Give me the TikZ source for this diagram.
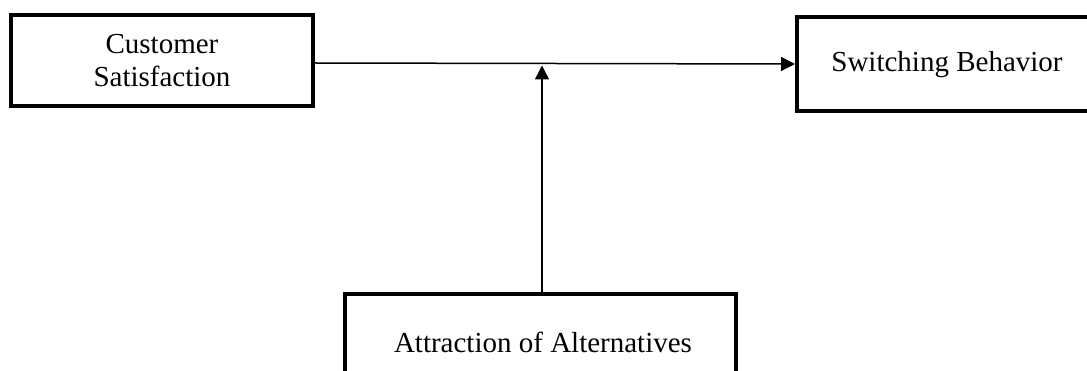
\documentclass[tikz,border=0pt]{standalone}
\usepackage{fontspec}
\setmainfont{Liberation Serif}
\usetikzlibrary{arrows.meta}
\begin{document}
\begin{tikzpicture}[x=1pt,y=-1pt,
  boxnode/.style={draw=black,line width=4pt,rectangle,inner sep=0pt,align=center,
    font=\fontsize{29}{33}\selectfont},
  conn/.style={line width=1.5pt,-{Triangle[length=14pt,width=14pt]}}]
\useasboundingbox (0,0) rectangle (1087,371);
\fill[white] (0,0) rectangle (1087,371);
\clip (0,0) rectangle (1087,371);
\node[boxnode,minimum width=302pt,minimum height=91pt] (cs) at (162,60.5) {Customer\\Satisfaction};
\node[boxnode,minimum width=303pt,minimum height=94pt] (sb) at (948.5,64) {};
\node[font=\fontsize{29}{33}\selectfont] (sbt) at (947,65) {Switching Behavior};
\node[boxnode,minimum width=391pt,minimum height=98pt] (aa) at (540.5,343) {};
\node[font=\fontsize{29}{33}\selectfont] (aat) at (543,342) {Attraction of Alternatives};
\draw[conn] ([yshift=-2.5pt]cs.east) -- (sb.west);
\coordinate (m) at (542,65.5);
\draw[conn] (aa.north -| m) -- (m);
\end{tikzpicture}
\end{document}
